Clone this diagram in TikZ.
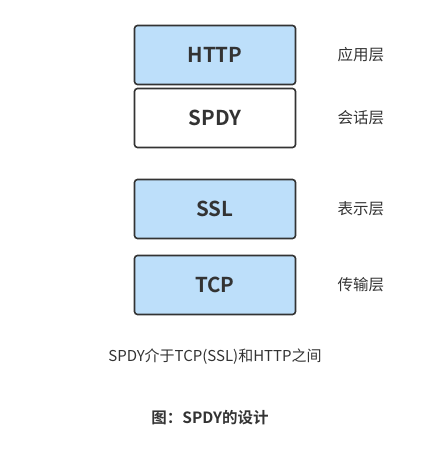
\documentclass[tikz,border=0pt]{standalone}
\usepackage{fontspec}
\setmainfont{Noto Sans CJK SC}[BoldFont={Noto Sans CJK SC Bold}]
\usepackage{xcolor}
\usetikzlibrary{positioning}
\definecolor{layerbg}{RGB}{189,223,250}
\definecolor{inkgray}{RGB}{51,51,51}

\begin{document}
\begin{tikzpicture}[
  x=1pt, y=-1pt,
  node distance=41pt,
  layer/.style={draw=inkgray, line width=1.6pt, rounded corners=3pt,
    minimum width=161pt, minimum height=59pt, inner sep=0pt,
    font=\fontsize{20.5}{24}\selectfont\bfseries, text=inkgray},
  tag/.style={inner sep=0pt, font=\fontsize{15.5}{18}\selectfont, text=inkgray},
  capt/.style={inner sep=0pt, font=\fontsize{15}{18}\selectfont, text=inkgray}
]
\useasboundingbox (0,0) rectangle (446,462);
\node[layer, fill=layerbg] (http) at (215,55) {HTTP};
\node[layer, fill=white] (spdy) at (215,118) {SPDY};
\node[layer, fill=layerbg] (ssl) at (215,209) {SSL};
\node[layer, fill=layerbg] (tcp) at (215,285) {TCP};
\node[tag, right=of http] (app) {应用层};
\node[tag, right=of spdy] (sess) {会话层};
\node[tag, right=of ssl] (pres) {表示层};
\node[tag, right=of tcp] (trans) {传输层};
\node[capt] (note) at (215,357) {SPDY介于TCP(SSL)和HTTP之间};
\node[capt, font=\fontsize{15.5}{18}\selectfont\bfseries] (title) at (210,418) {图：SPDY的设计};
\end{tikzpicture}
\end{document}
